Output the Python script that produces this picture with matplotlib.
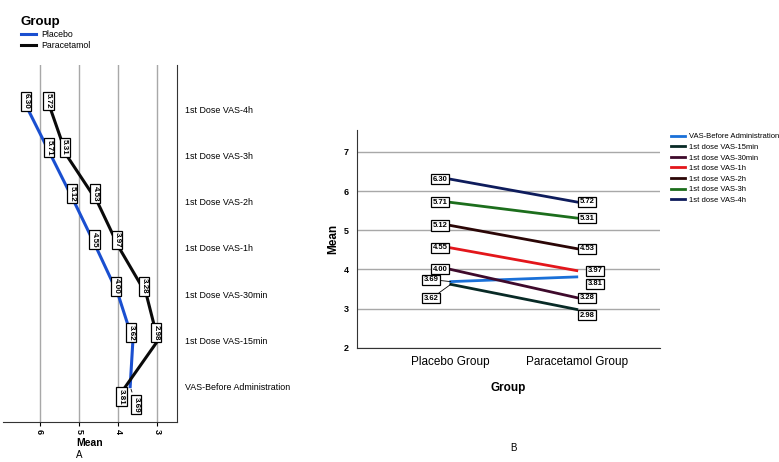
import numpy as np
import matplotlib.pyplot as plt

plt.rcParams['font.family'] = ['Liberation Sans', 'DejaVu Sans']

# ---------------------------------------------------------------------------
# data
# ---------------------------------------------------------------------------
time_points_a = ['VAS-Before Administration', '1st Dose VAS-15min', '1st Dose VAS-30min',
                 '1st Dose VAS-1h', '1st Dose VAS-2h', '1st Dose VAS-3h', '1st Dose VAS-4h']
time_points_b = ['VAS-Before Administration', '1st dose VAS-15min', '1st dose VAS-30min',
                 '1st dose VAS-1h', '1st dose VAS-2h', '1st dose VAS-3h', '1st dose VAS-4h']
groups = ['Placebo Group', 'Paracetamol Group']
group_names = ['Placebo', 'Paracetamol']
placebo = [3.69, 3.62, 4.00, 4.55, 5.12, 5.71, 6.30]
paracetamol = [3.81, 2.98, 3.28, 3.97, 4.53, 5.31, 5.72]

colors_b = ['#1a70d8', '#082a26', '#3e0a2c', '#e3161b', '#2b0606', '#1c6e1c', '#0e1c5c']
group_colors = ['#1a4fd0', '#0a0a0a']

fig = plt.figure(figsize=(7.79, 4.62), dpi=100)

box = dict(boxstyle='square,pad=0.2', fc='white', ec='black', lw=0.9)

# ---------------------------------------------------------------------------
# Panel A (rotated layout)
# ---------------------------------------------------------------------------
ax_a = fig.add_axes([0.004, 0.087, 0.223, 0.772])
idx = np.arange(len(time_points_a))
ax_a.plot(placebo, idx, color=group_colors[0], lw=2.2, label=group_names[0], zorder=3)
ax_a.plot(paracetamol, idx, color=group_colors[1], lw=2.2, label=group_names[1], zorder=3)

ax_a.set_xlim(6.93, 2.5)
ax_a.set_ylim(-0.76, 6.95)
ax_a.set_xticks([6, 5, 4, 3])
ax_a.set_xticklabels(['6', '5', '4', '3'], rotation=270, fontsize=6.5, fontweight='bold')
ax_a.tick_params(axis='x', length=3, width=0.8, pad=2)
ax_a.yaxis.tick_right()
ax_a.set_yticks(idx)
ax_a.set_yticklabels(time_points_a, fontsize=6.4)
ax_a.tick_params(axis='y', length=0, pad=6)
ax_a.grid(axis='x', color='#a8a8a8', lw=1)
ax_a.set_axisbelow(True)
for s in ['left', 'top']:
    ax_a.spines[s].set_visible(False)
ax_a.spines['right'].set_color('#333333')
ax_a.spines['bottom'].set_color('#333333')
ax_a.set_xlabel('Mean', fontsize=7.5, fontweight='bold', labelpad=3)

offsets_a = {(0, 0): (6, -18), (1, 0): (-4, -10)}
for g, vals in enumerate([placebo, paracetamol]):
    for i, v in enumerate(vals):
        off = offsets_a.get((g, i), (-2, 8))
        arrow = dict(arrowstyle='-', lw=0.6, color='black') if (g, i) in offsets_a else None
        ax_a.annotate(f'{v:.2f}', (v, i), xytext=off, textcoords='offset pixels',
                      rotation=270, ha='center', va='center', fontsize=5.8,
                      fontweight='bold', bbox=box, arrowprops=arrow, zorder=5)

fig.legend(handles=ax_a.get_lines(), loc='upper left', bbox_to_anchor=(0.022, 0.972),
           title='Group', title_fontproperties={'size': 9.5, 'weight': 'bold'},
           alignment='left', frameon=False, fontsize=6.3, handlelength=1.8,
           labelspacing=0.2, handletextpad=0.6, borderaxespad=0)

fig.text(79 / 779, 1 - 455 / 462, 'A', fontsize=7, ha='center', va='center')

# ---------------------------------------------------------------------------
# Panel B
# ---------------------------------------------------------------------------
ax_b = fig.add_axes([0.458, 0.247, 0.389, 0.472])
xg = np.arange(len(groups))
for i, lab in enumerate(time_points_b):
    ax_b.plot(xg, [placebo[i], paracetamol[i]], color=colors_b[i], lw=2, label=lab, zorder=3)

ax_b.set_xlim(-0.746, 1.659)
ax_b.set_ylim(2, 7.56)
ax_b.set_yticks([2, 3, 4, 5, 6, 7])
ax_b.set_yticklabels(['2', '3', '4', '5', '6', '7'], fontsize=6.5, fontweight='bold')
ax_b.set_xticks(xg)
ax_b.set_xticklabels(groups, fontsize=8.5)
ax_b.tick_params(length=0, pad=6)
ax_b.grid(axis='y', color='#a8a8a8', lw=1)
ax_b.set_axisbelow(True)
for s in ['right', 'top']:
    ax_b.spines[s].set_visible(False)
ax_b.spines['left'].set_color('#333333')
ax_b.spines['bottom'].set_color('#333333')
ax_b.set_ylabel('Mean', fontsize=8.5, fontweight='bold', labelpad=3)
ax_b.set_xlabel('Group', fontsize=8.5, fontweight='bold', labelpad=10)

offsets_b = {(0, 0): (-12, 2, 'right'), (0, 1): (-12, -14, 'right'),
             (1, 0): (11, -7, 'left'), (1, 1): (3, -6, 'left'), (1, 3): (11, 0, 'left')}
for g, vals in enumerate([placebo, paracetamol]):
    for i, v in enumerate(vals):
        default = (-3, 0, 'right') if g == 0 else (3, 0, 'left')
        dx, dy, ha = offsets_b.get((g, i), default)
        arrow = None
        if (g, i) in [(0, 0), (0, 1)]:
            arrow = dict(arrowstyle='-', lw=0.6, color='black', shrinkA=0, shrinkB=0)
        ax_b.annotate(f'{v:.2f}', (g, v), xytext=(dx, dy), textcoords='offset pixels',
                      ha=ha, va='center', fontsize=5.5, fontweight='bold',
                      bbox=box, arrowprops=arrow, zorder=5)

fig.legend(handles=ax_b.get_lines(), loc='upper left', bbox_to_anchor=(668 / 779, 1 - 130 / 462),
           frameon=False, fontsize=5.5, handlelength=1.8, labelspacing=0.42,
           handletextpad=0.6, borderaxespad=0)

fig.text(513 / 779, 1 - 448 / 462, 'B', fontsize=7, ha='center', va='center')

fig.savefig('out.png', dpi=100)
